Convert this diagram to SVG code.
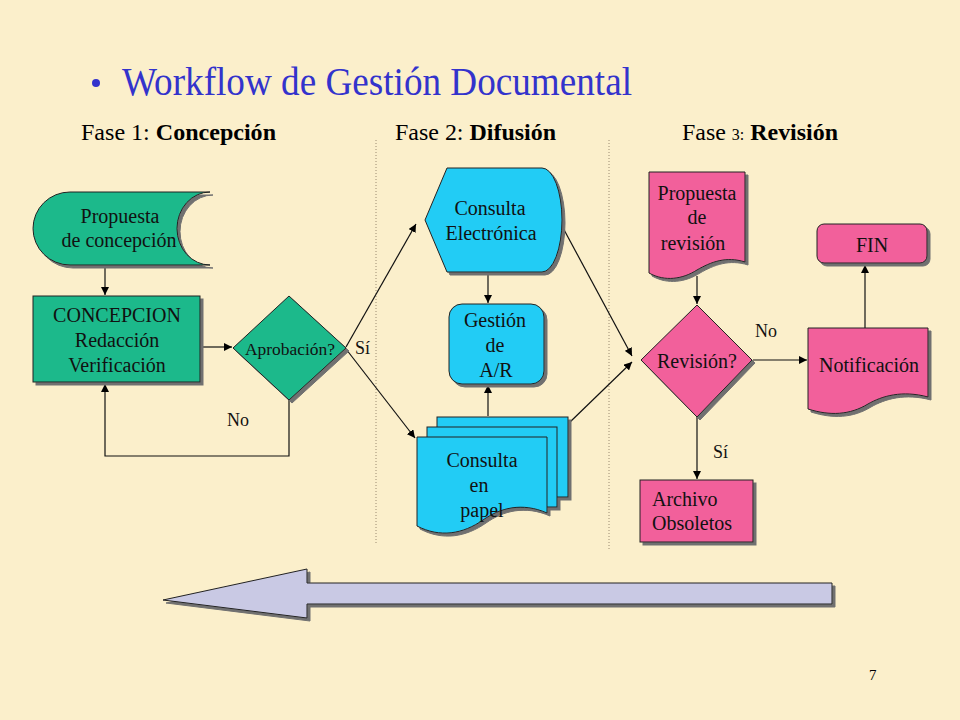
<svg xmlns="http://www.w3.org/2000/svg" width="960" height="720" viewBox="0 0 960 720">
<defs>
<style>
.t{font-family:"Liberation Serif","Times New Roman",serif;fill:#111}
.n{font-size:20px;text-anchor:middle}
.lbl{font-size:18px}
.hd{font-size:24px;fill:#000}
.g{fill:#1DB98B;stroke:#222;stroke-width:1}
.c{fill:#22CCF5;stroke:#222;stroke-width:1}
.p{fill:#F2609B;stroke:#222;stroke-width:1}
.ln{fill:none;stroke:#111;stroke-width:1.2}
.dot{stroke:#9a8a70;stroke-width:1;stroke-dasharray:1 2}
</style>
<filter id="sh" x="-10%" y="-10%" width="130%" height="130%">
<feOffset in="SourceAlpha" dx="3" dy="3" result="o"/>
<feFlood flood-color="#707070"/>
<feComposite in2="o" operator="in"/>
<feMerge><feMergeNode/><feMergeNode in="SourceGraphic"/></feMerge>
</filter>
<marker id="ar" viewBox="0 0 10 10" refX="10" refY="5" markerWidth="8" markerHeight="8" markerUnits="userSpaceOnUse" orient="auto">
<path d="M0,0 L10,5 L0,10 Z" fill="#000"/>
</marker>
</defs>
<rect width="960" height="720" fill="#FBEFCB"/>

<g id="title">
<circle cx="96" cy="83" r="4" fill="#3333CC"/>
<text class="t" x="122" y="95" font-size="40" style="fill:#3333CC" textLength="510" lengthAdjust="spacingAndGlyphs">Workflow de Gestión Documental</text>
</g>
<g id="phases">
<text class="t hd" x="81" y="140" textLength="195" lengthAdjust="spacingAndGlyphs">Fase 1: <tspan font-weight="bold">Concepción</tspan></text>
<text class="t hd" x="395" y="140" textLength="161" lengthAdjust="spacingAndGlyphs">Fase 2: <tspan font-weight="bold">Difusión</tspan></text>
<text class="t hd" x="682" y="140" textLength="156" lengthAdjust="spacingAndGlyphs">Fase <tspan font-size="16">3:</tspan> <tspan font-weight="bold">Revisión</tspan></text>
<line class="dot" x1="376" y1="140" x2="376" y2="545"/>
<line class="dot" x1="609" y1="140" x2="609" y2="550"/>
</g>

<g id="connectors">
<line class="ln" x1="105" y1="266" x2="105" y2="295" marker-end="url(#ar)"/>
<line class="ln" x1="200" y1="347" x2="232" y2="347" marker-end="url(#ar)"/>
<polyline class="ln" points="289,400 289,456 105,456 105,384" marker-end="url(#ar)"/>
<line class="ln" x1="346" y1="347" x2="416" y2="224" marker-end="url(#ar)"/>
<line class="ln" x1="346" y1="349" x2="415" y2="438" marker-end="url(#ar)"/>
<line class="ln" x1="488" y1="272" x2="488" y2="303" marker-end="url(#ar)"/>
<line class="ln" x1="488" y1="416" x2="488" y2="385" marker-end="url(#ar)"/>
<line class="ln" x1="562" y1="226" x2="632" y2="356" marker-end="url(#ar)"/>
<line class="ln" x1="569" y1="423" x2="632" y2="362" marker-end="url(#ar)"/>
<line class="ln" x1="697" y1="276" x2="697" y2="304" marker-end="url(#ar)"/>
<line class="ln" x1="753" y1="360" x2="807" y2="360" marker-end="url(#ar)"/>
<line class="ln" x1="697" y1="417" x2="697" y2="479" marker-end="url(#ar)"/>
<line class="ln" x1="865" y1="328" x2="865" y2="265" marker-end="url(#ar)"/>
<text class="t lbl" x="355" y="354">Sí</text>
<text class="t lbl" x="227" y="426">No</text>
<text class="t lbl" x="755" y="337">No</text>
<text class="t lbl" x="713" y="458">Sí</text>
</g>

<g id="n-propuesta-concepcion">
<path class="g" filter="url(#sh)" d="M70,192 H210 A33,36.5 0 0 0 210,265 H70 A37,36.5 0 0 1 70,192 Z"/>
<text class="t n" x="120" y="223">Propuesta</text>
<text class="t n" x="119" y="247">de concepción</text>
</g>
<g id="n-concepcion">
<rect class="g" filter="url(#sh)" x="33" y="296" width="167" height="86"/>
<text class="t n" x="117" y="322">CONCEPCION</text>
<text class="t n" x="117" y="347">Redacción</text>
<text class="t n" x="117" y="372">Verificación</text>
</g>
<g id="n-aprobacion">
<polygon class="g" filter="url(#sh)" points="289,296 346,348 289,400 233,348"/>
<text class="t" x="245" y="355" font-size="16" textLength="90" lengthAdjust="spacingAndGlyphs">Aprobación?</text>
</g>

<g id="n-consulta-electronica">
<path class="c" filter="url(#sh)" d="M425,220 L447,168 H542 A20,52 0 0 1 542,272 H447 Z"/>
<text class="t n" x="490" y="215">Consulta</text>
<text class="t n" x="491" y="240">Electrónica</text>
</g>
<g id="n-gestion">
<rect class="c" filter="url(#sh)" x="449" y="304" width="95" height="80" rx="13"/>
<text class="t n" x="495" y="327">Gestión</text>
<text class="t n" x="495" y="352">de</text>
<text class="t n" x="496" y="377">A/R</text>
</g>
<g id="n-consulta-papel">
<g filter="url(#sh)">
<rect class="c" x="437" y="417" width="131" height="80"/>
<rect class="c" x="427" y="427" width="130" height="80"/>
<path class="c" d="M417,437 H547 V513 C522,502 500,508 483,520 C463,534 440,538 417,526 Z"/>
</g>
<text class="t n" x="482" y="467">Consulta</text>
<text class="t n" x="479" y="492">en</text>
<text class="t n" x="482" y="517">papel</text>
</g>

<g id="n-propuesta-revision">
<path class="p" filter="url(#sh)" d="M649,172 H745 V262 C726,256 711,262 697,270 C683,279 665,282 649,273 Z"/>
<text class="t n" x="697" y="200">Propuesta</text>
<text class="t n" x="697" y="224">de</text>
<text class="t n" x="693" y="250">revisión</text>
</g>
<g id="n-revision">
<polygon class="p" filter="url(#sh)" points="697,305 752,360 697,417 641,360"/>
<text class="t n" x="697" y="368">Revisión?</text>
</g>
<g id="n-fin">
<rect class="p" filter="url(#sh)" x="817" y="224" width="110" height="39" rx="7"/>
<text class="t n" x="872" y="252">FIN</text>
</g>
<g id="n-notificacion">
<path class="p" filter="url(#sh)" d="M808,328 H928 V397 C902,390 882,396 868,404 C850,415 830,416 808,409 Z"/>
<text class="t n" x="869" y="372">Notificación</text>
</g>
<g id="n-archivo">
<rect class="p" filter="url(#sh)" x="640" y="480" width="113" height="62"/>
<text class="t" font-size="20" x="652" y="506">Archivo</text>
<text class="t" font-size="20" x="652" y="530">Obsoletos</text>
</g>

<g id="big-arrow">
<polygon filter="url(#sh)" points="163,600 307,569 307,583 832,583 832,604 307,604 307,618" fill="#C9C9E4" stroke="#222" stroke-width="1"/>
</g>

<text class="t" x="869" y="680" font-size="15" style="fill:#000">7</text>
</svg>
